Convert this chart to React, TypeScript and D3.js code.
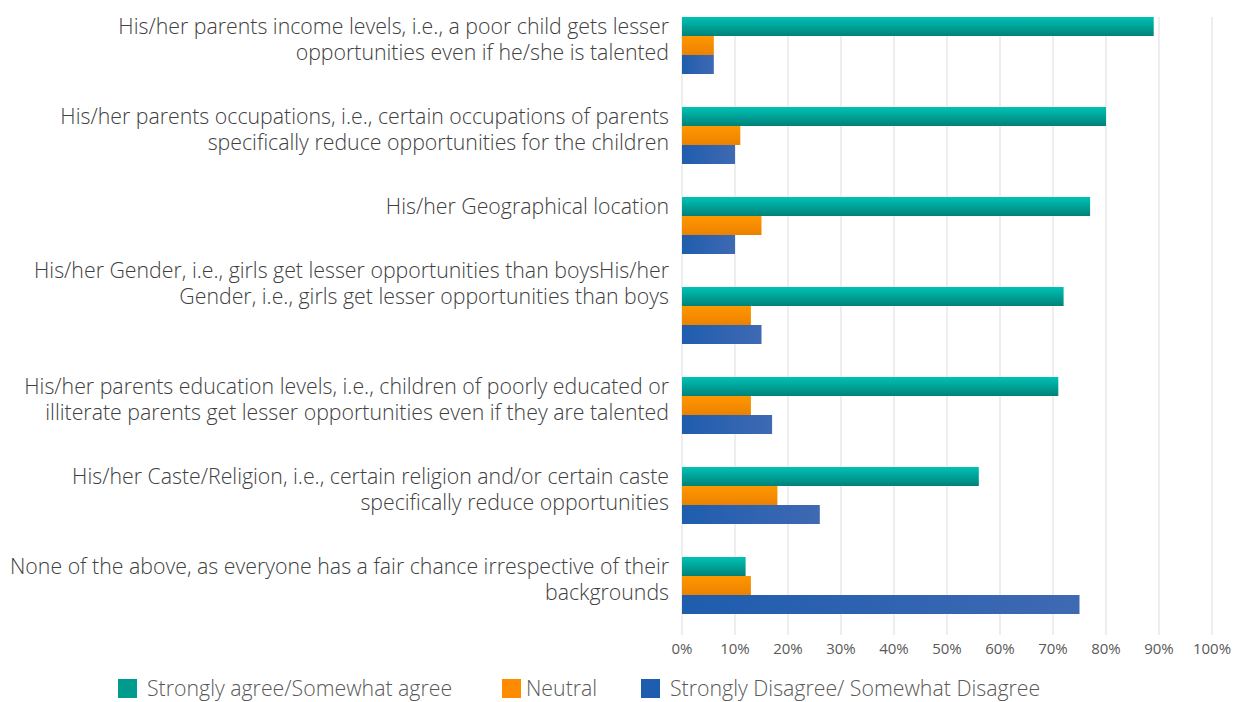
import React from "react";
import * as d3 from "d3";

const categories: string[][] = [
  ["His/her parents income levels, i.e., a poor child gets lesser", "opportunities even if he/she is talented"],
  ["His/her parents occupations, i.e., certain occupations of parents", "specifically reduce opportunities for the children"],
  ["His/her Geographical location", ""],
  ["His/her Gender, i.e., girls get lesser opportunities than boysHis/her", "Gender, i.e., girls get lesser opportunities than boys", "", ""],
  ["His/her parents education levels, i.e., children of poorly educated or", "illiterate parents get lesser opportunities even if they are talented"],
  ["His/her Caste/Religion, i.e., certain religion and/or certain caste", "specifically reduce opportunities"],
  ["None of the above, as everyone has a fair chance irrespective of their", "backgrounds"],
];

const seriesNames = ["Strongly agree/Somewhat agree", "Neutral", "Strongly Disagree/ Somewhat Disagree"];
const agree = [0.89, 0.80, 0.77, 0.72, 0.71, 0.56, 0.12];
const neutral = [0.06, 0.11, 0.15, 0.13, 0.13, 0.18, 0.13];
const disagree = [0.06, 0.10, 0.10, 0.15, 0.17, 0.26, 0.75];
const tickValues = [0, 0.1, 0.2, 0.3, 0.4, 0.5, 0.6, 0.7, 0.8, 0.9, 1.0];

const seriesValues = [agree, neutral, disagree];
const fills = ["url(#gGreen)", "url(#gOrange)", "url(#gBlue)"];
const legendColors = ["#009B8F", "#FF8C00", "#1F5EAE"];

export default function App() {
  const W = 1234, H = 702;
  const x = d3.scaleLinear().domain([0, 1]).range([682, 1212]);
  const y = d3
    .scaleBand<number>()
    .domain(d3.range(categories.length))
    .range([0.5, 630.5])
    .paddingInner(33 / 90)
    .paddingOuter(16.5 / 90);
  const sub = d3.scaleBand<number>().domain([0, 1, 2]).range([0, y.bandwidth()]).padding(0);
  const fmt = d3.format(".0%");
  const font = "'Open Sans', sans-serif";
  const legendX = [118, 502, 641];

  return (
    <svg width={W} height={H} style={{ position: "absolute", left: 0, top: 0, background: "#fff" }}>
      <defs>
        <linearGradient id="gGreen" x1="0" y1="0" x2="0" y2="1">
          <stop offset="0" stopColor="#00C2B6" />
          <stop offset="1" stopColor="#008278" />
        </linearGradient>
        <linearGradient id="gOrange" x1="0" y1="0" x2="0" y2="1">
          <stop offset="0" stopColor="#FF9700" />
          <stop offset="1" stopColor="#EB8200" />
        </linearGradient>
        <linearGradient id="gBlue" x1="0" y1="0" x2="1" y2="0">
          <stop offset="0" stopColor="#1F5DAE" />
          <stop offset="1" stopColor="#3F69B3" />
        </linearGradient>
      </defs>
      {tickValues.map((t) => (
        <g key={t}>
          <line x1={x(t)} x2={x(t)} y1={17} y2={635} stroke="#E3E3E3" strokeWidth={1.2} />
          <text x={x(t)} y={649} dy="0.35em" textAnchor="middle" fontFamily={font} fontSize={15} fill="#595959">
            {fmt(t)}
          </text>
        </g>
      ))}
      {categories.map((lines, i) => {
        const cy = (y(i) as number) + y.bandwidth() / 2 - 6;
        const lh = 26;
        const y0 = cy - ((lines.length - 1) * lh) / 2;
        return (
          <g key={i}>
            {seriesValues.map((vals, s) => (
              <rect
                key={s}
                x={x(0)}
                y={(y(i) as number) + (sub(s) as number)}
                width={x(vals[i]) - x(0)}
                height={sub.bandwidth()}
                fill={fills[s]}
              />
            ))}
            {lines.map((ln, k) => (
              <text
                key={k}
                x={669}
                y={y0 + k * lh}
                dy="0.35em"
                textAnchor="end"
                fontFamily={font}
                fontWeight={300}
                fontSize={21.3}
                fill="#404040"
              >
                {ln}
              </text>
            ))}
          </g>
        );
      })}
      {seriesNames.map((n, s) => (
        <g key={n} transform={`translate(${legendX[s]},679)`}>
          <rect x={0} y={0} width={19} height={19} fill={legendColors[s]} />
          <text x={s === 1 ? 24 : 29} y={9.5} dy="0.35em" fontFamily={font} fontWeight={300} fontSize={21.3} fill="#595959">
            {n}
          </text>
        </g>
      ))}
    </svg>
  );
}
